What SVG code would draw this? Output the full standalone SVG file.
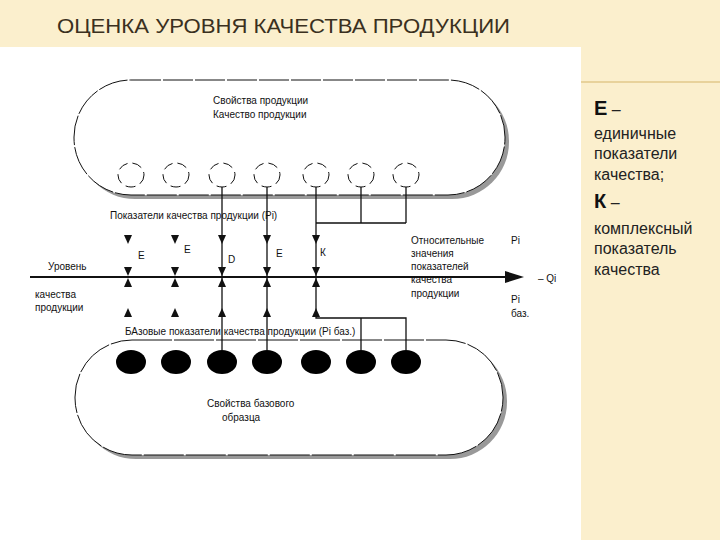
<svg xmlns="http://www.w3.org/2000/svg" width="720" height="540" viewBox="0 0 720 540">
<defs>
<style>
.t{font-family:"Liberation Sans",Arial,sans-serif;fill:#111;font-size:10px}
.ln{stroke:#111;stroke-width:1.3;fill:none}
.side{font-family:"Liberation Sans",Arial,sans-serif;fill:#222;font-size:16px}
</style>
<path id="dn" d="M-4,-5 L4,-5 L0,4 Z" fill="#111"/>
<path id="up" d="M-4,5 L4,5 L0,-4 Z" fill="#111"/>
</defs>
<rect width="720" height="540" fill="#fbefcd"/>
<rect x="0" y="47" width="581" height="493" fill="#fff"/>
<line x1="581" y1="82" x2="720" y2="82" stroke="#e2c98a" stroke-width="1.5"/>
<text x="57" y="33" font-family="'Liberation Sans',Arial,sans-serif" font-size="20" fill="#3a3020" textLength="453" lengthAdjust="spacingAndGlyphs">ОЦЕНКА УРОВНЯ КАЧЕСТВА ПРОДУКЦИИ</text>
<g id="top">
<rect x="78" y="84" width="431" height="115" rx="57" fill="#999"/>
<rect x="74" y="80" width="431" height="115" rx="57" fill="#fff" stroke="#111" stroke-width="1" stroke-dasharray="30 2"/>
<text class="t" x="213" y="104">Свойства продукции</text>
<text class="t" x="213" y="118">Качество продукции</text>
<g fill="none" stroke="#111" stroke-dasharray="10 5" stroke-width="1">
<ellipse cx="131" cy="175" rx="13" ry="12"/><ellipse cx="176" cy="175" rx="13" ry="12"/><ellipse cx="222" cy="175" rx="13" ry="12"/><ellipse cx="267" cy="175" rx="13" ry="12"/><ellipse cx="316" cy="175" rx="13" ry="12"/><ellipse cx="361" cy="175" rx="13" ry="12"/><ellipse cx="406" cy="175" rx="13" ry="12"/>
</g>
</g>
<g id="bottom">
<rect x="79" y="344" width="428" height="115" rx="57" fill="#999"/>
<rect x="75" y="340" width="428" height="115" rx="57" fill="#fff" stroke="#111" stroke-width="1" stroke-dasharray="40 2"/>
<g fill="#000">
<ellipse cx="131" cy="362" rx="15" ry="12"/><ellipse cx="176" cy="362" rx="15" ry="12"/><ellipse cx="222" cy="362" rx="15" ry="12"/><ellipse cx="267" cy="362" rx="15" ry="12"/><ellipse cx="316" cy="362" rx="15" ry="12"/><ellipse cx="361" cy="362" rx="15" ry="12"/><ellipse cx="406" cy="362" rx="15" ry="12"/>
</g>
<text class="t" x="207" y="407">Свойства базового</text>
<text class="t" x="222" y="421">образца</text>
</g>
<g id="connectors">
<path class="ln" d="M222,187 V277 M267,187 V277 M316,187 V277 M361,187 V223 M406,187 V223 M316,223 H406"/>
<path class="ln" d="M222,277 V350 M267,277 V350 M316,277 V318 H406 V350 M361,318 V350"/>
<line x1="30" y1="277" x2="510" y2="277" stroke="#111" stroke-width="2"/>
<path d="M505,271 L524,277 L505,283 Z" fill="#111"/>
<g>
<use href="#dn" x="128" y="240"/><use href="#dn" x="175" y="240"/><use href="#dn" x="222" y="240"/><use href="#dn" x="267" y="240"/><use href="#dn" x="316" y="240"/>
<use href="#dn" x="128" y="272"/><use href="#dn" x="175" y="272"/><use href="#dn" x="222" y="272"/><use href="#dn" x="267" y="272"/><use href="#dn" x="316" y="272"/>
<use href="#up" x="128" y="282"/><use href="#up" x="175" y="282"/><use href="#up" x="222" y="282"/><use href="#up" x="267" y="282"/><use href="#up" x="316" y="282"/>
<use href="#up" x="128" y="312"/><use href="#up" x="175" y="312"/><use href="#up" x="222" y="312"/><use href="#up" x="267" y="312"/><use href="#up" x="316" y="312"/>
</g>
</g>
<g id="labels">
<text class="t" x="110" y="219">Показатели качества продукции (Pi)</text>
<text class="t" x="125" y="335">БАзовые показатели качества продукции (Pi баз.)</text>
<text class="t" x="138" y="259">Е</text><text class="t" x="184" y="253">Е</text><text class="t" x="228" y="263">D</text><text class="t" x="276" y="257">Е</text><text class="t" x="320" y="256">К</text>
<text class="t" x="48" y="270">Уровень</text>
<text class="t" x="35" y="298">качества</text>
<text class="t" x="35" y="311">продукции</text>
<text class="t" x="411" y="244">Относительные</text>
<text class="t" x="411" y="257">значения</text>
<text class="t" x="411" y="270">показателей</text>
<text class="t" x="411" y="283">качества</text>
<text class="t" x="411" y="297">продукции</text>
<text class="t" x="511" y="244">Pi</text>
<text class="t" x="538" y="282">– Qi</text>
<text class="t" x="511" y="303">Pi</text>
<text class="t" x="511" y="317">баз.</text>
</g>
<g id="legend">
<text class="side" x="594" y="115"><tspan font-weight="bold" font-size="20" fill="#111">Е</tspan> –</text>
<text class="side" x="594" y="139">единичные</text>
<text class="side" x="594" y="159">показатели</text>
<text class="side" x="594" y="180">качества;</text>
<text class="side" x="594" y="208"><tspan font-weight="bold" font-size="20" fill="#111">К</tspan> –</text>
<text class="side" x="594" y="234">комплексный</text>
<text class="side" x="594" y="254">показатель</text>
<text class="side" x="594" y="275">качества</text>
</g>
</svg>
